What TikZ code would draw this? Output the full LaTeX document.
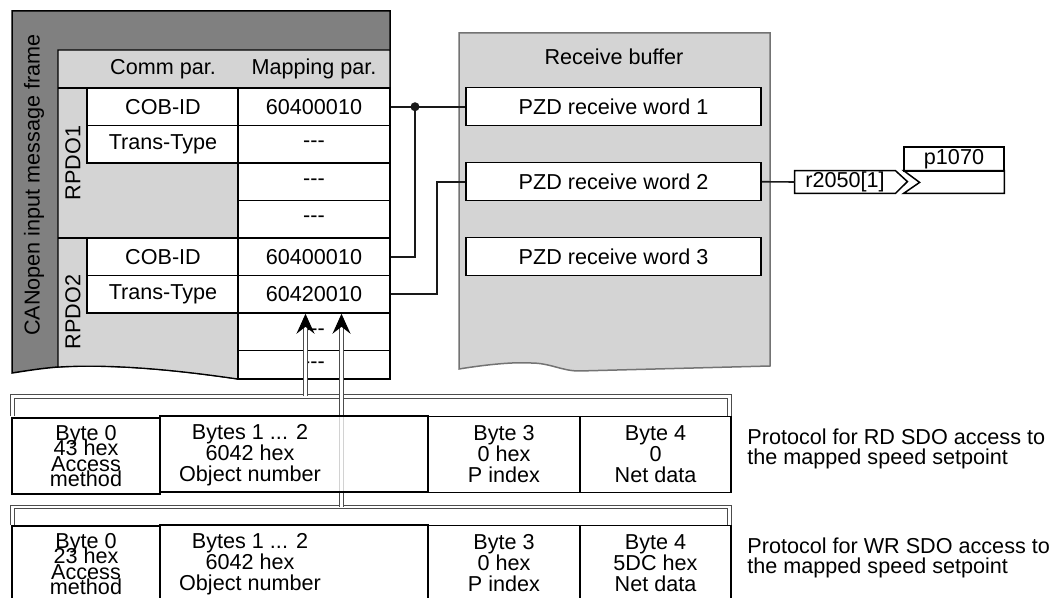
\documentclass[tikz,border=0pt]{standalone}
\usepackage{fontspec}
\setsansfont{Liberation Sans}
\usetikzlibrary{shapes,arrows.meta,positioning,calc}

\newlength{\px}
\setlength{\px}{0.5pt}
\newcommand{\nix}{-{}-{}-}
\newcommand{\noskip}{\setlength{\lineskiplimit}{-20pt}}

\begin{document}
\begin{tikzpicture}[
    x=0.5pt, y=-0.5pt,
    every node/.style={font=\sffamily\fontsize{10.8}{12}\selectfont},
    cell/.style={draw, rectangle, fill=white, line width=0.75pt, inner sep=0pt, minimum width=152\px, minimum height=37.5\px},
    word/.style={draw, rectangle, fill=white, line width=0.75pt, inner sep=0pt, minimum width=295\px, minimum height=38\px},
    byte/.style={draw, rectangle, fill=white, line width=0.75pt, inner sep=0pt, minimum height=76\px},
    lines/.style={align=center, inner sep=0pt, font=\sffamily\fontsize{10.8}{10.5}\selectfont\noskip},
    tight/.style={align=center, inner sep=0pt, font=\sffamily\fontsize{10.8}{7.6}\selectfont\noskip},
    note/.style={anchor=west, align=left, inner sep=0pt, font=\sffamily\fontsize{10.8}{10}\selectfont\noskip},
    vert/.style={rotate=90, inner sep=0pt},
    edge/.style={line width=0.8pt, draw=black!90},
    dbl/.style={draw=black!70, line width=0.55pt, double=white, double distance=1.1pt},
    tip/.style={-{Stealth[length=10pt, width=9pt, inset=3.5pt, black]}},
]
\useasboundingbox (0,0) rectangle (1060,598);

% CANopen message frame
\draw[fill=black!50, line width=0.75pt] (12,11) -- (390,11) -- (390,379) -- (238,379)
    .. controls (170,369) and (110,364) .. (58,367) .. controls (40,368.5) and (25,371) .. (12,373) -- cycle;
\draw[fill=black!17, line width=0.6pt] (58,50) -- (390,50) -- (390,379) -- (238,379)
    .. controls (170,369) and (110,364) .. (58,367) -- cycle;
\draw[line width=0.75pt] (58,88) -- (390,88);
\draw[line width=0.75pt] (58,238) -- (238,238);

\node[vert] (frame) at (34,185) {CANopen input message frame};
\node[vert] (rpdo1) at (73,163) {RPDO1};
\node[vert] (rpdo2) at (73,312) {RPDO2};
\node (comm) at (163,69) {Comm par.};
\node (mapping) at (314,69) {Mapping par.};

% RPDO1
\node[cell] (cob1) at (163,106.75) {COB-ID};
\node[cell] (trans1) at (163,144.25) {Trans-Type};
\node[cell] (map11) at (314,106.75) {60400010};
\node[cell] (map12) at (314,144.25) {\nix};
\node[cell] (map13) at (314,181.75) {\nix};
\node[cell] (map14) at (314,219.25) {\nix};

% RPDO2
\node[cell] (cob2) at (163,256.75) {COB-ID};
\node[cell] (trans2) at (163,294.25) {Trans-Type};
\node[cell] (map21) at (314,256.75) {60400010};
\node[cell] (map22) at (314,294.25) {60420010};
\node[cell] (map23) at (314,331.75) {\nix};
\node[cell, minimum height=28.5\px] (map24) at (314,364.75) {\nix};

% Receive buffer
\draw[fill=black!17, draw=black!55, line width=0.75pt] (459,33) -- (770,33) -- (770,366) -- (579,371)
    .. controls (562,371) and (550,363) .. (531,363) .. controls (515,362) and (490,364) .. (459,369) -- cycle;
\node (buffer) at (614,57) {Receive buffer};
\node[word] (word1) at (613.5,106.75) {PZD receive word 1};
\node[word] (word2) at (613.5,181.75) {PZD receive word 2};
\node[word] (word3) at (613.5,256.75) {PZD receive word 3};

% r2050[1] -> p1070
\node[minimum width=100\px, minimum height=22\px, inner sep=0pt] (r2050) at (845,182) {r2050[1]};
\draw[line width=0.75pt] (r2050.north west) -- (r2050.north east) -- ++(12,11) -- (r2050.south east) -- (r2050.south west) -- cycle;
\node[draw, line width=0.75pt, minimum width=100\px, minimum height=24\px, inner sep=0pt] (p1070) at (954,159) {p1070};
\node[minimum width=100\px, minimum height=22\px, inner sep=0pt] (sink) at (954,182) {};
\draw[line width=0.75pt] (sink.north west) -- (sink.north east) -- (sink.south east) -- (sink.south west) -- ++(16,-11) -- cycle;

% Connectors
\coordinate (split) at (415,106.75);
\draw[edge] (map11.east) -- (word1.west);
\draw[edge] (split) |- (map21.east);
\fill[black!90] (split) circle (4.5);
\draw[edge] (map22.east) -- ++(46,0) |- (word2.west);
\draw[edge] (word2.east) -- (r2050.west);

% SDO protocol frames
\draw[dbl] (12.5,416) -- (12.5,396.5) -- (729.5,396.5) -- (729.5,416);
\draw[dbl] (12.5,525) -- (12.5,507) -- (729.5,507) -- (729.5,525);

\coordinate (rdtop) at (305.5,396.5);
\coordinate (wrtop) at (341.5,507);
\coordinate (rdtip) at ($(map22.south)+(-8.5,0)$);
\coordinate (wrtip) at ($(map22.south)+(27.5,0)$);
\draw[dbl, tip] (rdtop) -- (rdtip);
\draw[dbl, tip] (wrtop) -- (wrtip);

% RD access
\node[byte, tight, minimum width=148\px] (rdmethod) at (86,456) {Byte 0\\43 hex\\Access\\method};
\node[byte, minimum width=268\px, fill opacity=0.75] (rdobj) at (294,454) {};
\node[lines] (rdobjtxt) at (250,455) {Bytes 1 ... 2\\6042 hex\\Object number};
\node[byte, lines, minimum width=152\px] (rdidx) at (504,454.5) {Byte 3\\0 hex\\P index};
\node[byte, lines, minimum width=151\px] (rddata) at (655.5,454.5) {Byte 4\\0\\Net data};
\node[note] (rdnote) at (747,448.5) {Protocol for RD SDO access to\\the mapped speed setpoint};

% WR access
\node[byte, tight, minimum width=148\px] (wrmethod) at (86,564) {Byte 0\\23 hex\\Access\\method};
\node[byte, minimum width=268\px] (wrobj) at (294,563) {};
\node[lines] (wrobjtxt) at (250,564) {Bytes 1 ... 2\\6042 hex\\Object number};
\node[byte, lines, minimum width=152\px] (wridx) at (504,563.5) {Byte 3\\0 hex\\P index};
\node[byte, lines, minimum width=151\px] (wrdata) at (655.5,563.5) {Byte 4\\5DC hex\\Net data};
\node[note] (wrnote) at (747,558) {Protocol for WR SDO access to\\the mapped speed setpoint};

\end{tikzpicture}
\end{document}
